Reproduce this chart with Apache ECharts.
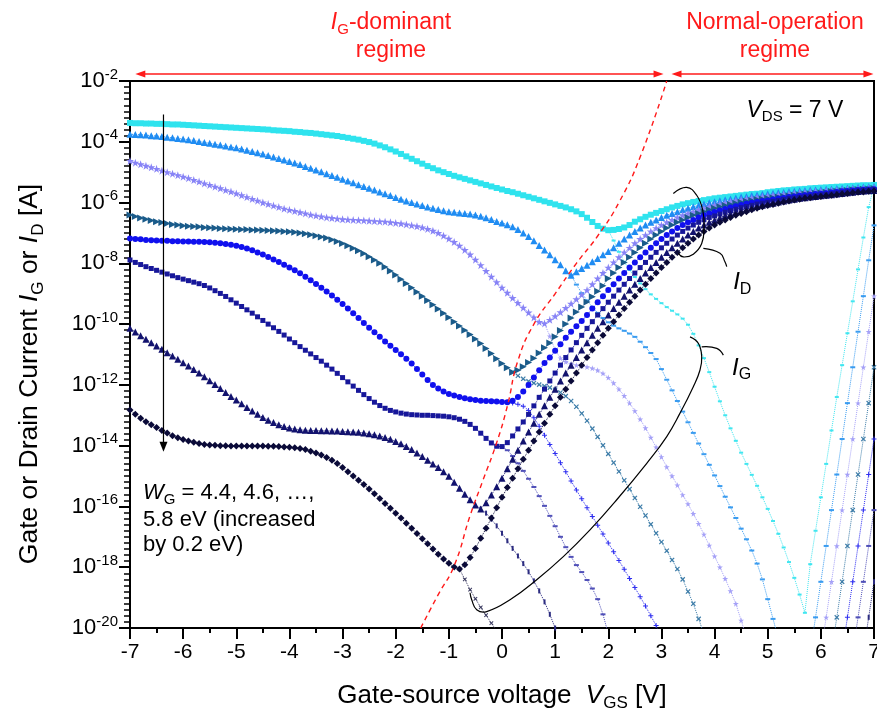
<!DOCTYPE html>
<html>
<head>
<meta charset="utf-8">
<script src="https://cdn.jsdelivr.net/npm/echarts@6/dist/echarts.min.js"></script>
<style>
  html, body { margin: 0; padding: 0; background: #fff; }
  #chart { width: 877px; height: 713px; }
</style>
</head>
<body>
<div id="chart"></div>
<script>
// Drain/gate current vs. gate-source voltage at V_DS = 7 V for gate work functions 4.4 ... 5.8 eV.
// Currents are stored as log10(I [A]); every sweep is sampled every 0.1 V.

const sweepStart = -7.0;   // first V_GS sample of each I_D sweep

// ---- drain current I_D, log10(A), V_GS = -7.0 ... 7.0 ----
const id44 = [-3.38,-3.39,-3.39,-3.40,-3.40,-3.41,-3.41,-3.42,-3.43,-3.43,
 -3.44,-3.45,-3.46,-3.47,-3.48,-3.49,-3.50,-3.51,-3.52,-3.53,
 -3.54,-3.55,-3.56,-3.57,-3.58,-3.59,-3.60,-3.62,-3.63,-3.64,
 -3.65,-3.67,-3.68,-3.70,-3.71,-3.73,-3.75,-3.77,-3.79,-3.81,
 -3.84,-3.87,-3.90,-3.93,-3.97,-4.01,-4.06,-4.12,-4.18,-4.25,
 -4.32,-4.40,-4.48,-4.56,-4.64,-4.72,-4.80,-4.87,-4.94,-5.00,
 -5.06,-5.12,-5.17,-5.22,-5.27,-5.32,-5.37,-5.42,-5.47,-5.52,
 -5.57,-5.62,-5.66,-5.71,-5.76,-5.81,-5.86,-5.91,-5.96,-6.01,
 -6.06,-6.11,-6.16,-6.22,-6.29,-6.38,-6.50,-6.64,-6.77,-6.86,
 -6.91,-6.90,-6.87,-6.82,-6.74,-6.63,-6.55,-6.47,-6.40,-6.34,
 -6.28,-6.22,-6.16,-6.11,-6.06,-6.02,-5.98,-5.95,-5.92,-5.89,
 -5.86,-5.84,-5.82,-5.80,-5.78,-5.76,-5.74,-5.72,-5.71,-5.69,
 -5.66,-5.64,-5.62,-5.60,-5.59,-5.57,-5.56,-5.55,-5.53,-5.52,
 -5.51,-5.50,-5.49,-5.48,-5.47,-5.46,-5.45,-5.44,-5.43,-5.43,
 -5.42];
const id46 = [-3.75,-3.76,-3.77,-3.78,-3.80,-3.81,-3.83,-3.85,-3.87,-3.89,
 -3.91,-3.93,-3.96,-3.99,-4.02,-4.05,-4.08,-4.11,-4.14,-4.17,
 -4.20,-4.24,-4.28,-4.32,-4.36,-4.40,-4.45,-4.50,-4.55,-4.60,
 -4.65,-4.70,-4.75,-4.81,-4.87,-4.93,-4.99,-5.05,-5.11,-5.17,
 -5.23,-5.29,-5.35,-5.41,-5.47,-5.53,-5.59,-5.65,-5.71,-5.77,
 -5.83,-5.89,-5.95,-6.00,-6.05,-6.10,-6.15,-6.19,-6.23,-6.27,
 -6.30,-6.32,-6.34,-6.36,-6.38,-6.41,-6.45,-6.50,-6.56,-6.62,
 -6.67,-6.73,-6.80,-6.89,-7.00,-7.12,-7.26,-7.41,-7.56,-7.72,
 -7.88,-8.05,-8.24,-8.39,-8.28,-8.17,-8.06,-7.95,-7.84,-7.72,
 -7.61,-7.49,-7.34,-7.20,-7.07,-6.95,-6.84,-6.74,-6.65,-6.57,
 -6.49,-6.42,-6.36,-6.30,-6.24,-6.19,-6.14,-6.09,-6.05,-6.01,
 -5.97,-5.94,-5.91,-5.88,-5.85,-5.82,-5.80,-5.77,-5.75,-5.73,
 -5.71,-5.69,-5.67,-5.66,-5.64,-5.63,-5.61,-5.60,-5.59,-5.58,
 -5.57,-5.56,-5.55,-5.54,-5.53,-5.52,-5.51,-5.50,-5.49,-5.48,
 -5.47];
const id48 = [-4.63,-4.69,-4.74,-4.79,-4.84,-4.89,-4.95,-5.00,-5.05,-5.10,
 -5.15,-5.20,-5.26,-5.31,-5.37,-5.42,-5.48,-5.53,-5.59,-5.64,
 -5.70,-5.76,-5.82,-5.88,-5.94,-6.00,-6.05,-6.10,-6.15,-6.20,
 -6.24,-6.28,-6.32,-6.36,-6.40,-6.43,-6.46,-6.49,-6.51,-6.53,
 -6.55,-6.56,-6.57,-6.58,-6.59,-6.60,-6.61,-6.62,-6.63,-6.65,
 -6.67,-6.69,-6.72,-6.75,-6.78,-6.82,-6.87,-6.93,-7.00,-7.09,
 -7.19,-7.30,-7.42,-7.56,-7.71,-7.88,-8.06,-8.25,-8.44,-8.62,
 -8.80,-8.97,-9.14,-9.30,-9.46,-9.62,-9.78,-9.93,-9.98,-9.86,
 -9.74,-9.61,-9.47,-9.33,-9.18,-9.03,-8.88,-8.69,-8.50,-8.32,
 -8.14,-7.97,-7.80,-7.64,-7.49,-7.34,-7.20,-7.07,-6.95,-6.84,
 -6.74,-6.65,-6.57,-6.49,-6.42,-6.36,-6.30,-6.24,-6.19,-6.14,
 -6.09,-6.05,-6.01,-5.97,-5.94,-5.91,-5.88,-5.86,-5.83,-5.81,
 -5.79,-5.77,-5.75,-5.73,-5.72,-5.70,-5.68,-5.67,-5.65,-5.64,
 -5.63,-5.61,-5.60,-5.59,-5.58,-5.56,-5.55,-5.54,-5.53,-5.52,
 -5.51];
const id50 = [-6.41,-6.46,-6.51,-6.55,-6.59,-6.63,-6.66,-6.69,-6.72,-6.74,
 -6.76,-6.78,-6.79,-6.80,-6.82,-6.83,-6.84,-6.85,-6.86,-6.87,
 -6.88,-6.89,-6.89,-6.90,-6.90,-6.91,-6.92,-6.93,-6.94,-6.95,
 -6.96,-6.98,-7.00,-7.03,-7.06,-7.09,-7.13,-7.17,-7.22,-7.28,
 -7.35,-7.42,-7.50,-7.59,-7.68,-7.78,-7.89,-8.00,-8.12,-8.25,
 -8.38,-8.52,-8.66,-8.80,-8.94,-9.08,-9.22,-9.36,-9.50,-9.64,
 -9.78,-9.92,-10.06,-10.20,-10.34,-10.49,-10.64,-10.80,-10.97,-11.14,
 -11.30,-11.44,-11.58,-11.52,-11.40,-11.26,-11.12,-10.95,-10.78,-10.62,
 -10.42,-10.21,-10.00,-9.80,-9.60,-9.44,-9.27,-9.10,-8.92,-8.74,
 -8.50,-8.32,-8.14,-7.97,-7.80,-7.64,-7.49,-7.34,-7.20,-7.07,
 -6.95,-6.84,-6.74,-6.65,-6.57,-6.49,-6.42,-6.36,-6.30,-6.24,
 -6.19,-6.14,-6.10,-6.06,-6.02,-5.99,-5.96,-5.93,-5.90,-5.88,
 -5.86,-5.84,-5.82,-5.80,-5.78,-5.76,-5.74,-5.72,-5.71,-5.69,
 -5.68,-5.66,-5.64,-5.63,-5.61,-5.60,-5.58,-5.57,-5.56,-5.55,
 -5.54];
const id52 = [-7.18,-7.20,-7.21,-7.23,-7.24,-7.25,-7.26,-7.26,-7.27,-7.27,
 -7.28,-7.28,-7.29,-7.29,-7.30,-7.31,-7.32,-7.34,-7.36,-7.39,
 -7.42,-7.46,-7.51,-7.57,-7.64,-7.71,-7.79,-7.87,-7.96,-8.05,
 -8.14,-8.23,-8.33,-8.44,-8.56,-8.68,-8.80,-8.93,-9.06,-9.20,
 -9.34,-9.49,-9.64,-9.80,-9.96,-10.12,-10.27,-10.42,-10.57,-10.71,
 -10.85,-10.99,-11.14,-11.30,-11.48,-11.66,-11.84,-12.00,-12.12,-12.22,
 -12.30,-12.35,-12.40,-12.44,-12.47,-12.50,-12.52,-12.53,-12.54,-12.55,
 -12.56,-12.57,-12.52,-12.40,-12.22,-12.00,-11.76,-11.52,-11.28,-11.10,
 -10.88,-10.66,-10.45,-10.25,-10.07,-9.90,-9.70,-9.49,-9.28,-9.08,
 -8.88,-8.69,-8.50,-8.32,-8.14,-7.97,-7.80,-7.64,-7.49,-7.34,
 -7.20,-7.07,-6.95,-6.84,-6.74,-6.65,-6.57,-6.49,-6.42,-6.36,
 -6.31,-6.26,-6.21,-6.16,-6.12,-6.08,-6.04,-6.01,-5.98,-5.95,
 -5.93,-5.90,-5.87,-5.85,-5.82,-5.80,-5.78,-5.76,-5.74,-5.72,
 -5.71,-5.69,-5.67,-5.65,-5.63,-5.62,-5.60,-5.59,-5.58,-5.57,
 -5.56];
const id54 = [-7.89,-7.97,-8.04,-8.11,-8.17,-8.23,-8.29,-8.35,-8.41,-8.47,
 -8.52,-8.57,-8.62,-8.67,-8.73,-8.81,-8.90,-8.99,-9.09,-9.20,
 -9.31,-9.42,-9.53,-9.64,-9.76,-9.88,-10.00,-10.12,-10.24,-10.36,
 -10.49,-10.61,-10.74,-10.86,-10.98,-11.10,-11.22,-11.35,-11.48,-11.62,
 -11.76,-11.90,-12.04,-12.18,-12.32,-12.45,-12.57,-12.68,-12.77,-12.84,
 -12.89,-12.93,-12.96,-12.98,-12.99,-13.00,-13.00,-13.01,-13.02,-13.03,
 -13.05,-13.08,-13.13,-13.20,-13.30,-13.43,-13.59,-13.76,-13.91,-14.02,
 -14.03,-13.90,-13.68,-13.45,-13.22,-12.97,-12.69,-12.41,-12.14,-11.87,
 -11.61,-11.35,-11.10,-10.85,-10.61,-10.37,-10.14,-9.92,-9.70,-9.49,
 -9.28,-9.08,-8.88,-8.69,-8.50,-8.32,-8.14,-7.97,-7.80,-7.64,
 -7.49,-7.34,-7.20,-7.07,-6.95,-6.84,-6.74,-6.65,-6.57,-6.49,
 -6.44,-6.38,-6.32,-6.27,-6.22,-6.17,-6.13,-6.09,-6.05,-6.02,
 -5.99,-5.96,-5.93,-5.90,-5.87,-5.85,-5.83,-5.81,-5.79,-5.77,
 -5.75,-5.73,-5.71,-5.69,-5.67,-5.65,-5.63,-5.62,-5.60,-5.59,
 -5.58];
const id56 = [-10.14,-10.26,-10.38,-10.50,-10.61,-10.72,-10.83,-10.94,-11.05,-11.16,
 -11.27,-11.38,-11.49,-11.61,-11.73,-11.86,-11.99,-12.12,-12.25,-12.38,
 -12.50,-12.62,-12.74,-12.86,-12.97,-13.07,-13.16,-13.24,-13.31,-13.37,
 -13.42,-13.45,-13.48,-13.49,-13.50,-13.50,-13.51,-13.51,-13.52,-13.52,
 -13.53,-13.54,-13.55,-13.56,-13.58,-13.61,-13.64,-13.68,-13.73,-13.79,
 -13.86,-13.94,-14.03,-14.13,-14.24,-14.36,-14.48,-14.60,-14.72,-14.86,
 -15.01,-15.20,-15.40,-15.60,-15.78,-15.95,-16.08,-15.88,-15.62,-15.35,
 -15.07,-14.76,-14.45,-14.15,-13.85,-13.55,-13.26,-12.97,-12.69,-12.41,
 -12.14,-11.87,-11.61,-11.35,-11.10,-10.85,-10.61,-10.37,-10.14,-9.92,
 -9.70,-9.49,-9.28,-9.08,-8.88,-8.69,-8.50,-8.32,-8.14,-7.97,
 -7.80,-7.64,-7.49,-7.34,-7.20,-7.07,-6.95,-6.84,-6.74,-6.65,
 -6.58,-6.50,-6.43,-6.37,-6.31,-6.26,-6.21,-6.17,-6.13,-6.09,
 -6.05,-6.02,-5.98,-5.95,-5.92,-5.89,-5.86,-5.84,-5.82,-5.80,
 -5.78,-5.76,-5.74,-5.72,-5.70,-5.68,-5.66,-5.64,-5.62,-5.61,
 -5.60];
const id58 = [-12.83,-12.97,-13.10,-13.21,-13.31,-13.40,-13.50,-13.58,-13.67,-13.74,
 -13.80,-13.85,-13.89,-13.93,-13.96,-13.98,-13.99,-14.00,-14.00,-14.01,
 -14.01,-14.01,-14.01,-14.01,-14.01,-14.01,-14.02,-14.02,-14.03,-14.04,
 -14.05,-14.07,-14.09,-14.13,-14.18,-14.24,-14.31,-14.39,-14.48,-14.59,
 -14.72,-14.86,-15.00,-15.14,-15.28,-15.43,-15.58,-15.74,-15.90,-16.06,
 -16.22,-16.38,-16.55,-16.72,-16.89,-17.06,-17.23,-17.40,-17.57,-17.73,
 -17.87,-17.99,-18.06,-17.92,-17.68,-17.38,-17.05,-16.72,-16.38,-16.04,
 -15.70,-15.38,-15.07,-14.76,-14.45,-14.15,-13.85,-13.55,-13.26,-12.97,
 -12.69,-12.41,-12.14,-11.87,-11.61,-11.35,-11.10,-10.85,-10.61,-10.37,
 -10.14,-9.92,-9.70,-9.49,-9.28,-9.08,-8.88,-8.69,-8.50,-8.32,
 -8.14,-7.97,-7.80,-7.64,-7.49,-7.34,-7.20,-7.07,-6.95,-6.84,
 -6.74,-6.65,-6.57,-6.49,-6.42,-6.36,-6.30,-6.24,-6.19,-6.14,
 -6.10,-6.06,-6.02,-5.98,-5.95,-5.92,-5.89,-5.86,-5.84,-5.82,
 -5.80,-5.78,-5.76,-5.74,-5.72,-5.70,-5.68,-5.66,-5.65,-5.63,
 -5.62];

// ---- gate current I_G, log10(|A|): falling branch from the I_D minimum, rising branch near V_GS = 7 V ----
const ig44Start = 2.0;
const ig44 = [-6.91,-7.25,-7.62,-7.95,-8.22,-8.45,-8.66,-8.85,-9.02,-9.17,
 -9.31,-9.44,-9.56,-9.68,-9.82,-10.02,-10.32,-10.70,-11.12,-11.58,
 -12.06,-12.54,-13.00,-13.43,-13.84,-14.23,-14.60,-14.96,-15.32,-15.70,
 -16.08,-16.48,-16.90,-17.35,-17.83,-18.35,-18.90,-19.50,-17.90,-16.80,
 -15.70,-14.60,-13.50,-12.40,-11.35,-10.30,-9.25,-8.20,-7.15,-6.15,
 -5.45];
const ig46FallStart = 1.3;
const ig46Fall = [-8.39,-8.70,-8.98,-9.22,-9.44,-9.63,-9.80,
 -9.94,-10.05,-10.14,-10.22,-10.31,-10.42,-10.58,-10.76,-10.95,-11.15,
 -11.48,-11.83,-12.18,-12.53,-12.88,-13.23,-13.58,-13.93,-14.28,-14.63,
 -14.98,-15.33,-15.68,-16.03,-16.38,-16.73,-17.08,-17.45,-17.88,-18.40,
 -19.05,-19.70,-20.35];
const ig46RiseStart = 5.8;
const ig46Rise = [-20.80,-19.65,-18.48,-17.30,-16.12,-14.95,-13.78,-12.60,-11.42,-10.25,-9.08,-7.90,-6.75];
const ig48FallStart = 0.8;
const ig48Fall = [-9.98,-10.40,
 -10.85,-11.12,-11.24,-11.31,-11.35,-11.38,-11.41,-11.45,-11.52,-11.62,
 -11.76,-11.94,-12.14,-12.36,-12.60,-12.86,-13.13,-13.42,-13.73,-14.05,
 -14.37,-14.70,-15.00,-15.30,-15.62,-15.92,-16.24,-16.57,-16.92,-17.28,
 -17.64,-18.00,-18.38,-18.78,-19.20,-19.75,-20.30];
const ig48RiseStart = 6.0;
const ig48Rise = [-20.80,-19.65,-18.48,-17.30,-16.12,-14.95,-13.78,-12.60,-11.42,-10.25,-9.08];
const ig50FallStart = 0.2;
const ig50Fall = [-11.58,-11.70,-11.80,-11.88,-11.94,-11.99,-12.04,-12.09,
 -12.16,-12.25,-12.37,-12.53,-12.72,-12.94,-13.18,-13.44,-13.71,-13.99,
 -14.27,-14.56,-14.85,-15.14,-15.43,-15.72,-16.01,-16.30,-16.59,-16.88,
 -17.17,-17.46,-17.76,-18.06,-18.40,-18.80,-19.20,-19.70,-20.20];
const ig50RiseStart = 6.2;
const ig50Rise = [-20.80,-19.65,-18.48,-17.30,-16.12,-14.95,-13.78,-12.60,-11.42];
const ig52FallStart = 0.1;
const ig52Fall = [-12.57,-12.60,-12.64,-12.70,-12.84,-13.08,-13.36,-13.66,-13.96,
 -14.26,-14.56,-14.86,-15.16,-15.46,-15.75,-16.04,-16.33,-16.62,-16.91,
 -17.20,-17.49,-17.78,-18.07,-18.37,-18.67,-18.97,-19.28,-19.60,-19.92,
 -20.25];
const ig52RiseStart = 6.4;
const ig52Rise = [-20.80,-19.65,-18.48,-17.30,-16.12,-14.95,-13.78];
const ig54FallStart = 0.0;
const ig54Fall = [-14.03,-14.15,-14.34,-14.58,-14.83,-15.09,-15.36,-15.66,-15.98,-16.31,
 -16.65,-17.00,-17.34,-17.66,-17.93,-18.16,-18.42,-18.70,-19.05,-19.55,
 -20.20];
const ig54RiseStart = 6.6;
const ig54Rise = [-20.80,-19.65,-18.48,-17.30,-16.12];
const ig56FallStart = -0.4;
const ig56Fall = [-16.08,-16.22,-16.42,-16.64,
 -16.88,-17.13,-17.38,-17.63,-17.88,-18.15,-18.45,-18.78,-19.14,-19.55,
 -20.00,-20.50];
const ig56RiseStart = 6.8;
const ig56Rise = [-20.80,-19.65,-18.48];
const ig58FallStart = -0.8;
const ig58Fall = [-18.06,-18.40,-18.74,-19.04,-19.32,-19.58,-19.84,-20.10];

// ---- boundary between the I_G-dominant and normal-operation regimes ----
const boundaryV = [-1.53,-1.2,-0.9,-0.6,-0.35,-0.1,0.1,0.3,0.6,1.0,1.4,1.8,2.2,2.6,3.1];
const boundaryE = [-20,-18.9,-17.95,-16.3,-15.1,-13.9,-12.7,-11.2,-10.0,-9.0,-8.0,-7.1,-6.0,-4.5,-2.0];

// ---- axes ----
const xTicks = [-7,-6,-5,-4,-3,-2,-1,0,1,2,3,4,5,6,7];
const yDecades = [-20,-18,-16,-14,-12,-10,-8,-6,-4,-2];

// ---------------------------------------------------------------------------
const FONT = '"Liberation Sans", Arial, Helvetica, sans-serif';
const RED = '#ff1a1a';

const SYM = {
  star: 'path://M50,0L61.8,35.1L98.9,35.1L68.8,56.8L80.3,91.9L50,70.3L19.7,91.9L31.2,56.8L1.1,35.1L38.2,35.1Z',
  plus: 'path://M40,0H60V40H100V60H60V100H40V60H0V40H40Z'
};

// one entry per work function: drain sweep, gate branches and their look
const sweeps = [
  { name: '4.4', id: id44, gate: [[ig44Start, ig44]],
    color: '#2fe3ee', sym: 'rect', size: 6, rot: 0,
    gColor: '#40e6f0', gSym: 'rect', gSize: [4, 2], gRot: 0 },
  { name: '4.6', id: id46, gate: [[ig46FallStart, ig46Fall], [ig46RiseStart, ig46Rise]],
    color: '#1f8cf2', sym: 'triangle', size: 7, rot: 0,
    gColor: '#3a9cf0', gSym: 'rect', gSize: [5, 2], gRot: 0 },
  { name: '4.8', id: id48, gate: [[ig48FallStart, ig48Fall], [ig48RiseStart, ig48Rise]],
    color: '#8783f6', sym: SYM.star, size: 8, rot: 0,
    gColor: '#a5a1f7', gSym: SYM.star, gSize: 6, gRot: 0 },
  { name: '5.0', id: id50, gate: [[ig50FallStart, ig50Fall], [ig50RiseStart, ig50Rise]],
    color: '#1a5b8a', sym: 'triangle', size: 7, rot: -90,
    gColor: '#3c7ca8', gSym: SYM.plus, gSize: 6, gRot: 45 },
  { name: '5.2', id: id52, gate: [[ig52FallStart, ig52Fall], [ig52RiseStart, ig52Rise]],
    color: '#1010ee', sym: 'circle', size: 6, rot: 0,
    gColor: '#2e2ef0', gSym: SYM.plus, gSize: 5, gRot: 0 },
  { name: '5.4', id: id54, gate: [[ig54FallStart, ig54Fall], [ig54RiseStart, ig54Rise]],
    color: '#17179a', sym: 'rect', size: 5, rot: 0,
    gColor: '#5050b8', gSym: 'rect', gSize: [5, 2], gRot: 0 },
  { name: '5.6', id: id56, gate: [[ig56FallStart, ig56Fall], [ig56RiseStart, ig56Rise]],
    color: '#12126e', sym: 'triangle', size: 7, rot: 0,
    gColor: '#2c2c80', gSym: 'rect', gSize: [2, 5], gRot: 0 },
  { name: '5.8', id: id58, gate: [[ig58FallStart, ig58Fall]],
    color: '#0a0a38', sym: 'diamond', size: 7, rot: 0,
    gColor: '#38385e', gSym: SYM.plus, gSize: 5, gRot: 45 }
];

function toPairs(start, values) {
  return values.map((e, i) => [Math.round((start + i * 0.1) * 10) / 10, e]);
}

const series = [];
sweeps.forEach(s => {
  s.gate.forEach(([start, vals]) => {
    series.push({
      type: 'line', name: 'IG ' + s.name, data: toPairs(start, vals),
      symbol: s.gSym, symbolSize: s.gSize, symbolRotate: s.gRot, showSymbol: true,
      itemStyle: { color: s.gColor },
      lineStyle: { color: s.gColor, width: 1, type: 'dotted' },
      z: 2, silent: true, animation: false, clip: true
    });
  });
});
sweeps.forEach(s => {
  series.push({
    type: 'line', name: 'ID ' + s.name, data: toPairs(sweepStart, s.id),
    symbol: s.sym, symbolSize: s.size, symbolRotate: s.rot, showSymbol: true,
    itemStyle: { color: s.color },
    lineStyle: { color: s.color, width: 1, type: 'dotted' },
    z: 3, silent: true, animation: false, clip: true
  });
});
series.push({
  type: 'line', name: 'boundary',
  data: boundaryV.map((v, i) => [v, boundaryE[i]]),
  smooth: 0.5, showSymbol: false, symbol: 'none',
  lineStyle: { color: RED, width: 1.4, type: [5, 4] },
  z: 5, silent: true, animation: false, clip: true
});

const subRich = {
  n: { fontSize: 26, fontFamily: FONT, color: '#000', lineHeight: 32 },
  i: { fontSize: 26, fontFamily: FONT, color: '#000', fontStyle: 'italic', lineHeight: 32 },
  sb: { fontSize: 17, fontFamily: FONT, color: '#000', verticalAlign: 'bottom', lineHeight: 17 }
};

const chart = echarts.init(document.getElementById('chart'), null, { renderer: 'canvas' });
const option = {
  animation: false,
  backgroundColor: '#fff',
  grid: {
    left: 130, top: 81, width: 744, height: 547,
    containLabel: false, outerBoundsMode: 'none',
    show: true, borderColor: '#000', borderWidth: 2, backgroundColor: 'transparent'
  },
  xAxis: {
    type: 'value', min: xTicks[0], max: xTicks[xTicks.length - 1], interval: 1,
    axisLine: { show: true, onZero: false, lineStyle: { color: '#000', width: 2 } },
    axisTick: { show: true, inside: false, length: 11, lineStyle: { color: '#000', width: 2 } },
    minorTick: { show: true, splitNumber: 2, length: 5, lineStyle: { color: '#000', width: 2 } },
    splitLine: { show: false },
    axisLabel: { color: '#000', fontSize: 21, fontFamily: FONT, margin: 14 },
    name: '{n|Gate-source voltage  }{i|V}{sb|GS}{n| [V]}',
    nameLocation: 'middle', nameGap: 52,
    nameTextStyle: { rich: subRich }
  },
  yAxis: {
    type: 'value', min: yDecades[0], max: yDecades[yDecades.length - 1], interval: 2,
    axisLine: { show: true, onZero: false, lineStyle: { color: '#000', width: 2 } },
    axisTick: { show: true, inside: false, length: 11, lineStyle: { color: '#000', width: 2 } },
    minorTick: { show: true, splitNumber: 10, length: 6, lineStyle: { color: '#000', width: 1.5 } },
    splitLine: { show: false },
    axisLabel: {
      margin: 12,
      formatter: v => '{b|10}{s|' + v + '}',
      rich: {
        b: { fontSize: 22, fontFamily: FONT, color: '#000', lineHeight: 28 },
        s: { fontSize: 15, fontFamily: FONT, color: '#000', verticalAlign: 'top', lineHeight: 15 }
      }
    }
  },
  series: series
};
chart.setOption(option);

// ---- annotations, anchored in data coordinates ----
const P = (v, e) => chart.convertToPixel({ gridIndex: 0 }, [v, e]);
const gridTop = P(0, yDecades[yDecades.length - 1])[1];

function richText(x, y, text, opts) {
  const fs = opts.fontSize || 23, col = opts.color || '#000';
  return {
    type: 'text', x: x, y: y, rotation: opts.rotation || 0, silent: true, z: 100,
    style: {
      text: text, align: opts.align || 'left', verticalAlign: 'middle',
      textAlign: opts.align || 'left', textVerticalAlign: 'middle',
      rich: {
        n: { fontSize: fs, fontFamily: FONT, fill: col, lineHeight: Math.round(fs * 1.25) },
        i: { fontSize: fs, fontFamily: FONT, fill: col, fontStyle: 'italic', lineHeight: Math.round(fs * 1.25) },
        sb: { fontSize: Math.round(fs * 0.66), fontFamily: FONT, fill: col, verticalAlign: 'bottom', lineHeight: Math.round(fs * 0.66) }
      }
    }
  };
}

function curve(pts, width) {
  return {
    type: 'polyline', silent: true, z: 90,
    shape: { points: pts.map(p => P(p[0], p[1])), smooth: 0.45 },
    style: { stroke: '#000', lineWidth: width || 1.2, fill: null }
  };
}

const g = [];
// vertical axis title
g.push(richText(30, 374, '{n|Gate or Drain Current }{i|I}{sb|G}{n| or }{i|I}{sb|D}{n| [A]}',
  { align: 'center', fontSize: 26.5, rotation: Math.PI / 2 }));

// regime arrows
const arrowY = gridTop - 7;
function hArrow(v0, v1) {
  const x0 = P(v0, -2)[0], x1 = P(v1, -2)[0];
  g.push({ type: 'line', silent: true, z: 90, shape: { x1: x0 + 4, y1: arrowY, x2: x1 - 4, y2: arrowY }, style: { stroke: RED, lineWidth: 1.5 } });
  g.push({ type: 'polygon', silent: true, z: 90, shape: { points: [[x0, arrowY], [x0 + 10, arrowY - 3.5], [x0 + 10, arrowY + 3.5]] }, style: { fill: RED } });
  g.push({ type: 'polygon', silent: true, z: 90, shape: { points: [[x1, arrowY], [x1 - 10, arrowY - 3.5], [x1 - 10, arrowY + 3.5]] }, style: { fill: RED } });
}
hArrow(-6.9, 3.04);
hArrow(3.19, 6.99);

g.push(richText(391, 23, '{i|I}{sb|G}{n|-dominant}', { align: 'center', color: RED, fontSize: 23 }));
g.push(richText(391, 51, '{n|regime}', { align: 'center', color: RED, fontSize: 23 }));
g.push(richText(775, 23, '{n|Normal-operation}', { align: 'center', color: RED, fontSize: 23 }));
g.push(richText(775, 51, '{n|regime}', { align: 'center', color: RED, fontSize: 23 }));

// V_DS label
const vds = P(4.6, -2.96);
g.push(richText(vds[0], vds[1], '{i|V}{sb|DS}{n| = 7 V}', { fontSize: 23 }));

// work-function sweep direction
const aTop = P(-6.37, -3.1), aBot = P(-6.37, -14.2);
g.push({ type: 'line', silent: true, z: 90, shape: { x1: aTop[0], y1: aTop[1], x2: aBot[0], y2: aBot[1] - 6 }, style: { stroke: '#000', lineWidth: 1.2 } });
g.push({ type: 'polygon', silent: true, z: 90, shape: { points: [[aBot[0], aBot[1]], [aBot[0] - 4, aBot[1] - 10], [aBot[0] + 4, aBot[1] - 10]] }, style: { fill: '#000' } });

const w1 = P(-6.755, -15.56), w2 = P(-6.755, -16.44), w3 = P(-6.755, -17.27);
g.push(richText(w1[0], w1[1], '{i|W}{sb|G}{n| = 4.4, 4.6, …,}', { fontSize: 22 }));
g.push(richText(w2[0], w2[1], '{n|5.8 eV (increased}', { fontSize: 22 }));
g.push(richText(w3[0], w3[1], '{n|by 0.2 eV)}', { fontSize: 22 }));

// I_D bracket
g.push(curve([[3.224,-5.70],[3.476,-5.50],[3.664,-5.76],[3.777,-6.25],[3.802,-6.80],[3.758,-7.35],[3.600,-7.70],[3.412,-7.79],[3.318,-7.67]]));
g.push(curve([[3.789,-7.51],[4.103,-7.67],[4.195,-7.95],[4.229,-8.11]]));
const idLab = P(4.35, -8.62);
g.push(richText(idLab[0], idLab[1], '{i|I}{sb|D}', { fontSize: 24 }));

// I_G bracket
g.push(curve([[3.538,-10.42],[3.694,-10.63],[3.758,-11.07],[3.726,-11.51],[3.600,-12.06],[3.350,-12.93],[3.100,-13.70],[2.724,-14.58],[2.159,-15.78],[1.656,-16.77],[1.154,-17.65],[0.653,-18.41],[0.151,-19.07],[-0.288,-19.46],[-0.476,-19.40],[-0.570,-19.07],[-0.602,-18.84]]));
g.push(curve([[3.758,-10.75],[4.041,-10.80],[4.165,-11.02]]));
const igLab = P(4.33, -11.44);
g.push(richText(igLab[0], igLab[1], '{i|I}{sb|G}', { fontSize: 24 }));

chart.setOption({ graphic: g });
</script>
</body>
</html>
